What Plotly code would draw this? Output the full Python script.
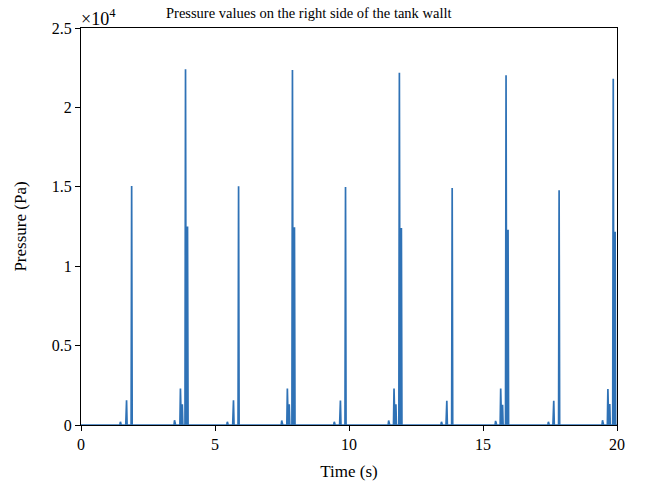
import plotly.graph_objects as go

# Time (s) and pressure (Pa) vertices
time_s = [
    0.00, 1.45, 1.47, 1.49, 1.50, 1.67, 1.70, 1.72, 1.87, 1.89, 1.91,
    3.47, 3.49, 3.51, 3.53, 3.69, 3.71, 3.74, 3.76, 3.78, 3.80, 3.88, 3.90, 3.925, 3.955, 3.975, 3.995,
    5.44, 5.46, 5.48, 5.49, 5.66, 5.69, 5.71, 5.86, 5.88, 5.90,
    7.47, 7.49, 7.51, 7.53, 7.68, 7.70, 7.73, 7.75, 7.77, 7.79, 7.87, 7.89, 7.915, 7.945, 7.965, 7.985,
    9.43, 9.45, 9.47, 9.48, 9.65, 9.68, 9.70, 9.85, 9.87, 9.89,
    11.46, 11.48, 11.50, 11.52, 11.66, 11.68, 11.71, 11.73, 11.75, 11.77, 11.86, 11.88, 11.905, 11.935, 11.955, 11.975,
    13.43, 13.45, 13.47, 13.48, 13.62, 13.65, 13.67, 13.83, 13.85, 13.87,
    15.45, 15.47, 15.49, 15.51, 15.64, 15.66, 15.69, 15.71, 15.73, 15.75, 15.84, 15.86, 15.885, 15.915, 15.935, 15.955,
    17.42, 17.44, 17.46, 17.47, 17.61, 17.64, 17.66, 17.82, 17.84, 17.86,
    19.44, 19.46, 19.48, 19.50, 19.64, 19.66, 19.69, 19.71, 19.73, 19.75, 19.84, 19.86, 19.885, 19.91, 19.93, 19.95,
    20.00,
]
pressure_pa = [
    0, 0, 200, 80, 0, 0, 1550, 0, 0, 15050, 0,
    0, 300, 120, 0, 0, 2300, 80, 0, 1300, 0, 0, 22400, 0, 0, 12500, 0,
    0, 200, 80, 0, 0, 1550, 0, 0, 15030, 0,
    0, 280, 120, 0, 0, 2300, 80, 0, 1300, 0, 0, 22350, 0, 0, 12450, 0,
    0, 200, 80, 0, 0, 1540, 0, 0, 14990, 0,
    0, 280, 120, 0, 0, 2290, 80, 0, 1300, 0, 0, 22180, 0, 0, 12400, 0,
    0, 200, 80, 0, 0, 1530, 0, 0, 14920, 0,
    0, 260, 120, 0, 0, 2290, 80, 0, 1270, 0, 0, 22020, 0, 0, 12300, 0,
    0, 200, 80, 0, 0, 1530, 0, 0, 14780, 0,
    0, 300, 120, 0, 0, 2270, 80, 0, 1320, 0, 0, 21800, 0, 0, 12170, 0,
    0,
]

x_ticks = [0, 5, 10, 15, 20]
y_ticks = [0, 5000, 10000, 15000, 20000, 25000]
y_tick_labels = ["0", "0.5", "1", "1.5", "2", "2.5"]

FONT = "Liberation Serif"
LINE_COLOR = "#2F72B6"

fig = go.Figure()
fig.add_trace(go.Scatter(
    x=time_s, y=pressure_pa, mode="lines",
    line=dict(color=LINE_COLOR, width=1.7),
    showlegend=False, hoverinfo="x+y",
))

fig.update_layout(
    width=650, height=497,
    margin=dict(l=81, r=33, t=28, b=72),
    paper_bgcolor="white", plot_bgcolor="white",
    font=dict(family=FONT, size=16, color="black"),
    title=dict(
        text="Pressure values on the right side of the tank wallt",
        font=dict(family=FONT, size=14.5, color="black"),
        x=0.475, xanchor="center", y=0.975, yanchor="middle",
    ),
)
fig.update_xaxes(
    range=[0, 20], tickvals=x_ticks, ticktext=[str(v) for v in x_ticks],
    showline=True, linecolor="black", linewidth=1, mirror=True,
    ticks="outside", ticklen=5, tickcolor="black", showgrid=False, zeroline=False,
    title=dict(text="Time (s)", font=dict(family=FONT, size=17), standoff=12),
    tickfont=dict(family=FONT, size=16),
)
fig.update_yaxes(
    range=[0, 25000], tickvals=y_ticks, ticktext=y_tick_labels,
    showline=True, linecolor="black", linewidth=1, mirror=True,
    ticks="outside", ticklen=5, tickcolor="black", showgrid=False, zeroline=False,
    title=dict(text="Pressure (Pa)", font=dict(family=FONT, size=17), standoff=20),
    tickfont=dict(family=FONT, size=16),
)
fig.add_annotation(
    text="×10<sup>4</sup>", xref="paper", yref="paper", x=0.0, y=1.0,
    xanchor="left", yanchor="bottom", showarrow=False,
    font=dict(family=FONT, size=18, color="black"), xshift=-2, yshift=-3,
)

fig.write_html("out.html")
